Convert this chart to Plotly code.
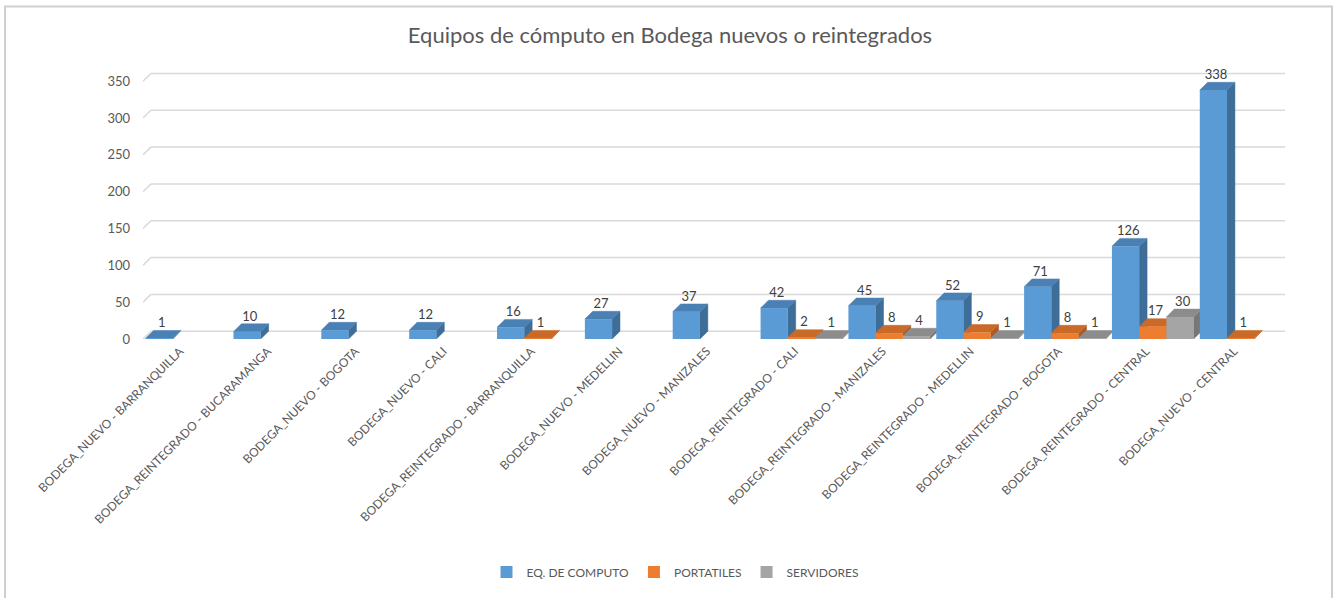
import plotly.graph_objects as go

categories = [
    "BODEGA_NUEVO - BARRANQUILLA",
    "BODEGA_REINTEGRADO - BUCARAMANGA",
    "BODEGA_NUEVO - BOGOTA",
    "BODEGA_NUEVO - CALI",
    "BODEGA_REINTEGRADO - BARRANQUILLA",
    "BODEGA_NUEVO - MEDELLIN",
    "BODEGA_NUEVO - MANIZALES",
    "BODEGA_REINTEGRADO - CALI",
    "BODEGA_REINTEGRADO - MANIZALES",
    "BODEGA_REINTEGRADO - MEDELLIN",
    "BODEGA_REINTEGRADO - BOGOTA",
    "BODEGA_REINTEGRADO - CENTRAL",
    "BODEGA_NUEVO - CENTRAL",
]
eq_computo = [1, 10, 12, 12, 16, 27, 37, 42, 45, 52, 71, 126, 338]
portatiles = [None, None, None, None, 1, None, None, 2, 8, 9, 8, 17, 1]
servidores = [None, None, None, None, None, None, None, 1, 4, 1, 1, 30, None]
y_ticks = [0, 50, 100, 150, 200, 250, 300, 350]

series_names = ["EQ. DE COMPUTO", "PORTATILES", "SERVIDORES"]
series_values = [eq_computo, portatiles, servidores]
front_colors = ["#5B9BD5", "#ED7D31", "#A5A5A5"]
side_colors = ["#3E6D98", "#AE5A22", "#777777"]
top_colors = ["#4A80B3", "#C96A28", "#8C8C8C"]

# ---- geometry / style ----
FW, FH = 1334, 598
L, R = 143, 1285          # plot area x pixels
T, B = 68, 346            # plot area y pixels (B = value 0)
Y_TOP = 368.0             # data value at top of plot area
PX_PER_UNIT = (B - T) / Y_TOP
BAR_W = 0.31              # front face width (category units)
OFFSETS = [-0.47, -0.16, 0.15]
DEPTH_X = 0.09            # 3D depth in category units
DEPTH_Y = 8 / PX_PER_UNIT  # 3D depth in value units
LABEL_SHIFT = -0.08       # category label anchor shift

xs = list(range(len(categories)))

fig = go.Figure()

# side faces then top faces (3D depth, computed from the data)
for face in ("side", "top"):
    for k, vals in enumerate(series_values):
        px_, py_ = [], []
        for i, v in zip(xs, vals):
            if v is None:
                continue
            xl = i + OFFSETS[k]
            xr = xl + BAR_W
            if face == "side":
                px_ += [xr, xr + DEPTH_X, xr + DEPTH_X, xr, xr, None]
                py_ += [0, DEPTH_Y, v + DEPTH_Y, v, 0, None]
            else:
                px_ += [xl, xl + DEPTH_X, xr + DEPTH_X, xr, xl, None]
                py_ += [v, v + DEPTH_Y, v + DEPTH_Y, v, v, None]
        col = side_colors[k] if face == "side" else top_colors[k]
        fig.add_trace(go.Scatter(
            x=px_, y=py_, mode="lines", fill="toself",
            fillcolor=col, line=dict(width=0.5, color=col),
            hoverinfo="skip", showlegend=False, yaxis="y"))

# front faces (the actual bars)
for k, (name, vals) in enumerate(zip(series_names, series_values)):
    fig.add_trace(go.Bar(
        name=name, x=xs, y=vals, width=BAR_W, offset=OFFSETS[k],
        marker=dict(color=front_colors[k], line=dict(width=0)),
        yaxis="y2"))

# data labels
for k, vals in enumerate(series_values):
    lx, ly, lt = [], [], []
    for i, v in zip(xs, vals):
        if v is None:
            continue
        lx.append(i + OFFSETS[k] + BAR_W / 2 + DEPTH_X / 3)
        ly.append(v + DEPTH_Y)
        lt.append(str(v))
    fig.add_trace(go.Scatter(
        x=lx, y=ly, text=lt, mode="text", textposition="top center",
        textfont=dict(color="#404040", size=13, family="Lato"),
        hoverinfo="skip", showlegend=False, cliponaxis=False, yaxis="y2"))

def pxx(x):
    return (x - L) / (R - L)

def pyy(y):
    return (B - y) / (B - T)

shapes = [dict(type="rect", xref="paper", yref="paper",
               x0=pxx(5), x1=pxx(1332), y0=pyy(615), y1=pyy(5),
               line=dict(color="#d0d0d0", width=2), layer="below")]
# back-wall gridlines (shifted up by the 3D depth) with the floor diagonal
for t in y_ticks:
    shapes.append(dict(type="line", xref="x", yref="y", layer="below",
                       x0=-0.5 + DEPTH_X, x1=len(categories) - 0.5 + DEPTH_X,
                       y0=t + DEPTH_Y, y1=t + DEPTH_Y,
                       line=dict(color="#d9d9d9", width=1.5)))
    shapes.append(dict(type="line", xref="x", yref="y", layer="below",
                       x0=-0.5, x1=-0.5 + DEPTH_X,
                       y0=t, y1=t + DEPTH_Y,
                       line=dict(color="#d9d9d9", width=1.5)))

fig.update_layout(
    width=FW, height=FH,
    margin=dict(l=L, r=FW - R, t=T, b=FH - B),
    paper_bgcolor="white", plot_bgcolor="white",
    barmode="overlay",
    font=dict(family="Lato", color="#595959"),
    title=dict(text="Equipos de cómputo en Bodega nuevos o reintegrados",
               x=670 / FW, xanchor="center", y=1 - 35 / FH, yanchor="middle",
               font=dict(size=22, color="#595959", family="Lato")),
    xaxis=dict(range=[-0.5, len(categories) - 0.5], tickmode="array",
               tickvals=[i + LABEL_SHIFT for i in xs], ticktext=categories,
               tickangle=-45, tickfont=dict(size=12, color="#595959"),
               showline=False, ticks="", showgrid=False, zeroline=False,
               ticklabelstandoff=2, automargin=False),
    yaxis=dict(range=[0, Y_TOP], tickvals=y_ticks, showgrid=False,
               zeroline=False, tickfont=dict(size=13, color="#595959"),
               ticks="", ticklabelstandoff=12, automargin=False),
    yaxis2=dict(range=[0, Y_TOP], overlaying="y", showgrid=False, zeroline=False,
                showticklabels=False, ticks="", automargin=False),
    legend=dict(orientation="h", x=pxx(675), xanchor="center", y=pyy(585),
                yanchor="middle", font=dict(size=12, color="#595959"),
                itemwidth=30, traceorder="normal"),
    shapes=shapes,
)

fig.write_html(
    "out.html", config={"displayModeBar": False},
    post_script=("document.documentElement.style.overflow='hidden';"
                 "document.body.style.margin='0px';"
                 "document.body.style.overflow='hidden';"))
